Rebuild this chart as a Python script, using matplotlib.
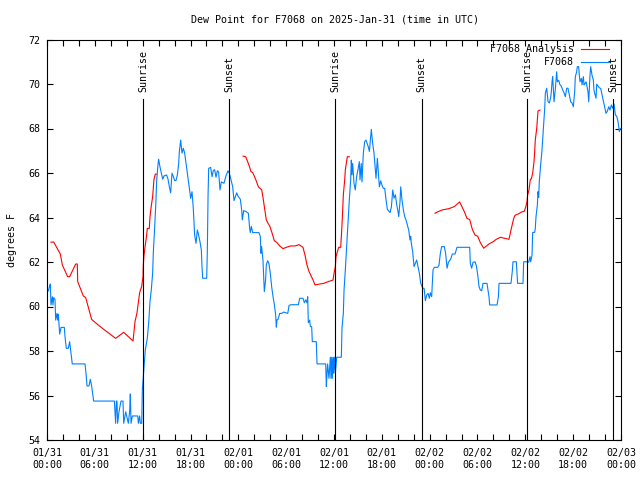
import numpy as np
import matplotlib
matplotlib.use("Agg")
import matplotlib.pyplot as plt
from matplotlib.ticker import MultipleLocator, FixedLocator

# hours since 2025-01-31 00:00 UTC
obs_hours = [0.17, 0.33, 0.42, 0.50, 0.67, 0.75, 0.84, 1.00, 1.09, 1.25, 1.34, 1.42, 1.59, 1.76, 2.17,
             2.26, 2.42, 2.67, 2.84, 3.01, 3.17, 4.77, 4.93, 5.02, 5.27, 5.43, 5.60, 5.85, 8.45, 8.61,
             8.70, 8.78, 8.86, 9.03, 9.28, 9.53, 9.62, 9.87, 10.20, 10.37, 10.45, 10.54, 10.71, 11.38,
             11.46, 11.62, 11.71, 11.88, 11.96, 12.08, 12.17, 12.33, 12.58, 12.75, 12.92, 13.08, 13.25,
             13.34, 13.50, 13.67, 13.76, 13.92, 14.00, 14.17, 14.34, 14.51, 14.68, 15.01, 15.18, 15.35,
             15.51, 15.68, 15.85, 16.01, 16.18, 16.35, 16.52, 16.60, 16.77, 16.93, 17.10, 17.27, 17.44,
             17.60, 17.77, 17.94, 18.02, 18.19, 18.35, 18.52, 18.69, 18.86, 19.02, 19.19, 19.36, 19.44,
             19.53, 20.03, 20.11, 20.20, 20.28, 20.53, 20.70, 20.86, 21.03, 21.20, 21.37, 21.53, 21.70,
             21.87, 22.20, 22.45, 22.70, 22.87, 23.04, 23.29, 23.46, 23.62, 23.79, 23.96, 24.25, 24.42,
             24.50, 24.67, 24.96, 25.26, 25.42, 25.50, 25.63, 25.80, 26.59, 26.76, 26.84, 26.92, 27.09,
             27.26, 27.42, 27.51, 27.68, 27.84, 28.01, 28.18, 28.35, 28.51, 28.68, 28.77, 28.85, 28.98,
             29.19, 29.44, 29.69, 30.20, 30.36, 30.61, 31.53, 31.70, 32.11, 32.28, 32.45, 32.61, 32.70,
             32.78, 32.95, 33.03, 33.20, 33.28, 33.78, 33.87, 34.96, 35.04, 35.12, 35.20, 35.37, 35.54,
             35.62, 35.71, 35.79, 35.88, 35.96, 36.04, 36.17, 36.34, 36.92, 37.00, 37.17, 37.26, 37.42,
             37.59, 37.76, 37.92, 38.09, 38.17, 38.25, 38.34, 38.51, 38.67, 38.84, 39.00, 39.18, 39.26,
             39.42, 39.51, 39.68, 39.85, 40.02, 40.27, 40.44, 40.60, 40.68, 40.85, 41.02, 41.19, 41.27,
             41.44, 41.60, 41.69, 41.86, 42.02, 42.19, 42.36, 42.53, 42.69, 43.03, 43.20, 43.37, 43.53,
             43.70, 43.87, 44.03, 44.12, 44.28, 44.37, 44.53, 44.70, 44.87, 45.03, 45.20, 45.37, 45.53,
             45.62, 45.70, 45.87, 46.04, 46.20, 46.37, 46.54, 46.71, 46.88, 47.13, 47.30, 47.46, 47.63,
             47.80, 47.96, 48.08, 48.25, 48.42, 48.58, 49.00, 49.17, 49.34, 49.50, 49.84, 50.01, 50.18,
             50.35, 50.51, 50.68, 50.84, 51.18, 51.43, 53.02, 53.10, 53.27, 53.44, 53.69, 53.86, 54.03,
             54.19, 54.36, 54.52, 54.69, 55.19, 55.44, 55.53, 56.45, 56.62, 56.70, 58.20, 58.37, 58.45,
             58.87, 58.95, 59.03, 59.71, 59.79, 60.21, 60.42, 60.59, 60.67, 60.84, 60.92, 61.17, 61.25,
             61.34, 61.51, 61.59, 61.67, 61.75, 61.92, 62.09, 62.26, 62.43, 62.51, 62.68, 62.85, 63.02,
             63.18, 63.26, 63.35, 63.43, 63.60, 63.77, 63.93, 64.02, 64.18, 64.35, 64.52, 64.69, 64.86,
             65.02, 65.19, 65.35, 65.52, 65.69, 65.85, 66.02, 66.19, 66.27, 66.44, 66.52, 66.69, 66.77,
             66.86, 67.03, 67.11, 67.28, 67.36, 67.45, 67.62, 67.86, 67.95, 68.11, 68.20, 68.36, 68.53,
             68.61, 68.70, 68.87, 68.95, 69.12, 69.28, 69.45, 69.62, 69.79, 69.96, 70.12, 70.29, 70.46,
             70.62, 70.79, 70.96, 71.13, 71.29, 71.46, 71.63, 71.71, 71.79, 71.92]
obs_dewpt = [60.70, 60.92, 61.01, 60.07, 60.44, 60.07, 60.40, 60.32, 59.39, 59.69, 59.39, 59.65, 58.76, 59.06, 59.06,
             58.64, 58.12, 58.12, 58.42, 57.92, 57.42, 57.42, 56.84, 56.43, 56.43, 56.73, 56.43, 55.75, 55.75, 54.75,
             55.75, 55.75, 54.75, 55.27, 55.75, 55.75, 54.75, 55.27, 54.75, 55.30, 56.07, 54.75, 55.08, 55.08,
             54.75, 55.08, 54.75, 54.75, 56.28, 56.84, 57.29, 58.04, 58.57, 59.24, 60.22, 60.74, 61.49,
             62.46, 63.51, 64.79, 65.69, 66.36, 66.62, 66.28, 65.99, 65.72, 65.87, 65.91, 65.72, 65.38,
             65.11, 65.99, 65.84, 65.66, 65.66, 65.91, 66.44, 66.96, 67.48, 66.89, 67.11, 66.89, 66.44,
             65.99, 65.54, 65.09, 64.86, 65.16, 64.41, 63.21, 62.84, 63.44, 63.21, 62.91, 62.54, 61.79,
             61.27, 61.27, 62.46, 64.93, 66.21, 66.25, 65.83, 66.11, 66.15, 65.81, 66.10, 66.05, 65.24,
             65.60, 65.54, 65.87, 66.10, 65.99, 65.76, 65.38, 64.76, 64.93, 65.11, 64.96, 64.82, 64.34,
             63.89, 64.31, 64.27, 64.19, 63.51, 63.32, 63.60, 63.32, 63.32, 63.14, 62.39, 62.69, 62.09,
             60.67, 61.19, 61.87, 62.06, 61.92, 61.49, 60.89, 60.44, 60.11, 59.62, 59.07, 59.40, 59.42,
             59.69, 59.69, 59.75, 59.69, 60.05, 60.08, 60.08, 60.37, 60.37, 60.17, 60.30, 60.17, 60.44,
             59.27, 59.39, 59.10, 59.09, 58.42, 58.42, 57.42, 57.42, 56.40, 56.97, 57.42, 56.77, 57.72,
             56.77, 57.72, 56.77, 57.72, 57.00, 57.72, 57.00, 57.72, 57.72, 59.02, 59.69, 60.74, 61.64,
             62.69, 63.66, 64.79, 65.69, 66.58, 65.92, 66.43, 65.54, 65.24, 65.84, 66.13, 66.51, 65.69,
             66.43, 65.60, 66.89, 67.41, 67.48, 67.21, 66.97, 67.63, 67.96, 67.33, 66.89, 66.14, 65.76,
             66.66, 65.84, 65.38, 65.65, 65.45, 65.31, 65.31, 64.79, 64.37, 64.22, 64.48, 65.24, 64.87,
             65.02, 64.56, 64.27, 64.04, 64.71, 65.38, 64.79, 64.34, 64.04, 63.89, 63.66, 63.44, 62.99,
             63.16, 62.84, 62.46, 61.79, 61.94, 62.09, 61.79, 61.49, 61.04, 60.82, 60.82, 60.26, 60.52,
             60.59, 60.37, 60.62, 60.44, 61.64, 61.76, 61.76, 61.85, 62.39, 62.69, 62.69, 62.36, 61.72,
             61.99, 62.06, 62.17, 62.36, 62.36, 62.66, 62.66, 61.94, 61.72, 61.99, 62.01, 61.82, 61.42,
             60.89, 60.74, 60.71, 61.04, 61.04, 60.44, 60.07, 60.07, 60.44, 61.04, 61.04, 61.60, 62.01,
             62.01, 61.50, 61.04, 61.04, 62.01, 62.01, 61.99, 62.24, 62.01, 62.31, 63.33, 63.33, 63.51,
             64.04, 64.56, 65.16, 64.90, 65.61, 66.36, 67.03, 68.01, 68.91, 69.58, 69.81, 69.20, 69.15,
             69.40, 69.65, 70.10, 70.33, 69.20, 69.80, 70.55, 70.10, 70.17, 69.96, 69.90, 69.73, 69.60,
             69.43, 69.81, 69.81, 69.51, 69.20, 69.15, 68.98, 69.65, 70.33, 70.55, 70.78, 70.78, 70.40,
             70.10, 70.25, 69.96, 70.33, 69.96, 70.00, 70.10, 69.65, 69.20, 70.40, 70.78, 70.40, 70.18,
             69.73, 69.58, 69.36, 69.99, 69.91, 69.83, 69.80, 69.51, 69.20, 68.91, 68.68, 68.78, 68.98,
             68.83, 69.06, 68.91, 69.10, 68.61, 68.55, 68.31, 68.09, 67.86, 68.00]

# analysis comes in three separate pieces (gaps between them)
ana_hours_1 = [0.50, 0.84, 1.67, 1.92, 2.59, 2.84, 3.60, 3.80, 3.85, 4.56, 4.85, 5.60, 6.52, 7.49, 8.61,
               9.62, 10.79, 11.04, 11.29, 11.62, 11.87, 12.04, 12.08, 12.17, 12.33, 12.50, 12.58, 12.83,
               12.92, 13.08, 13.25, 13.42, 13.59, 13.76]
ana_dewpt_1 = [62.89, 62.90, 62.36, 61.87, 61.34, 61.34, 61.91, 61.91, 61.12, 60.47, 60.40, 59.42, 59.14, 58.87, 58.57,
               58.84, 58.45, 59.32, 59.72, 60.62, 60.89, 61.34, 61.87, 62.31, 62.76, 63.21, 63.51, 63.51,
               64.04, 64.52, 64.93, 65.72, 65.95, 65.95]
ana_hours_2 = [24.59, 24.92, 25.17, 25.42, 25.59, 25.80, 26.17, 26.51, 26.93, 27.09, 27.26, 27.51, 27.68, 27.93,
               28.18, 28.51, 28.85, 29.19, 29.60, 30.02, 30.52, 31.10, 31.61, 32.11, 32.36, 32.61, 32.87,
               33.37, 33.62, 34.21, 34.71, 35.29, 35.88, 36.00, 36.17, 36.25, 36.42, 36.59, 36.84, 36.92,
               37.00, 37.09, 37.17, 37.34, 37.42, 37.59, 37.67, 37.92]
ana_dewpt_2 = [66.76, 66.73, 66.51, 66.26, 66.06, 66.02, 65.72, 65.38, 65.24, 64.91, 64.49, 63.89, 63.77, 63.62,
               63.36, 62.96, 62.87, 62.72, 62.60, 62.66, 62.72, 62.72, 62.78, 62.66, 62.31, 61.87, 61.57,
               61.19, 60.97, 61.01, 61.04, 61.12, 61.19, 61.49, 61.79, 62.24, 62.46, 62.66, 62.66, 63.14,
               63.66, 64.34, 65.01, 65.69, 66.13, 66.55, 66.73, 66.73]
ana_hours_3 = [48.67, 49.09, 49.59, 50.43, 51.09, 51.76, 52.35, 52.68, 53.02, 53.35, 53.69, 54.02, 54.36, 54.78,
               55.44, 55.95, 56.36, 56.87, 57.45, 57.95, 58.20, 58.54, 58.70, 59.12, 59.54, 59.87, 60.04,
               60.21, 60.29, 60.46, 60.63, 60.75, 60.92, 61.09, 61.17, 61.25, 61.43, 61.59, 61.84]
ana_dewpt_3 = [64.19, 64.27, 64.34, 64.40, 64.49, 64.70, 64.26, 63.96, 63.91, 63.47, 63.21, 63.16, 62.87, 62.62,
               62.81, 62.91, 63.02, 63.11, 63.06, 63.02, 63.44, 63.96, 64.10, 64.16, 64.25, 64.28, 64.46,
               64.71, 65.01, 65.24, 65.72, 65.73, 65.99, 66.51, 66.96, 67.48, 68.01, 68.79, 68.83]

sun_hours = [12.08, 22.87, 36.13, 47.0, 60.2, 71.04]
sun_labels = ["Sunrise", "Sunset", "Sunrise", "Sunset", "Sunrise", "Sunset"]

xtick_hours = [0, 6, 12, 18, 24, 30, 36, 42, 48, 54, 60, 66, 72]
xtick_labels = ["01/31\n00:00", "01/31\n06:00", "01/31\n12:00", "01/31\n18:00",
                "02/01\n00:00", "02/01\n06:00", "02/01\n12:00", "02/01\n18:00",
                "02/02\n00:00", "02/02\n06:00", "02/02\n12:00", "02/02\n18:00",
                "02/03\n00:00"]

################################################
def makePlot():
    plt.rcParams['font.family'] = 'DejaVu Sans Mono'
    plt.rcParams['font.size'] = 7.2

    fig = plt.figure(figsize=(6.4, 4.8), dpi=100)
    ax = fig.add_axes([47/640, 40/480, 574/640, 400.5/480])

    # analysis pieces joined with NaN gaps
    ana_h = ana_hours_1 + [np.nan] + ana_hours_2 + [np.nan] + ana_hours_3
    ana_v = ana_dewpt_1 + [np.nan] + ana_dewpt_2 + [np.nan] + ana_dewpt_3
    ax.plot(ana_h, ana_v, color='#ff0000', lw=0.8, label='F7068 Analysis')
    ax.plot(obs_hours, obs_dewpt, color='#0080ff', lw=0.8, label='F7068')

    # sunrise / sunset markers
    for h, lab in zip(sun_hours, sun_labels):
        ax.axvline(h, ymin=0, ymax=0.851, color='black', lw=0.8)
        ax.text(h, 0.868, lab, rotation=90, ha='center', va='bottom',
                transform=ax.get_xaxis_transform(), fontsize=7.2)

    ax.set_xlim(0, 72)
    ax.set_ylim(54, 72)
    ax.xaxis.set_major_locator(FixedLocator(xtick_hours))
    ax.set_xticklabels(xtick_labels)
    ax.xaxis.set_minor_locator(MultipleLocator(2))
    ax.yaxis.set_major_locator(MultipleLocator(2))

    ax.tick_params(which='both', direction='in', top=True, right=True,
                   length=4, width=0.8, pad=5, labelsize=7.2)
    ax.tick_params(axis='x', which='major', pad=6)
    for s in ax.spines.values():
        s.set_linewidth(0.8)

    ax.set_ylabel('degrees F', labelpad=8)
    fig.text(335/640, 1 - 19/480, 'Dew Point for F7068 on 2025-Jan-31 (time in UTC)',
             ha='center', va='center', fontsize=7.2)

    ax.legend(loc='upper right', bbox_to_anchor=(609/640, 1 - 44/480),
              bbox_transform=fig.transFigure, frameon=False, markerfirst=False,
              handlelength=2.8, handletextpad=0.7, borderpad=0, borderaxespad=0,
              labelspacing=0.3, fontsize=7.2)

    fig.savefig('out.png', dpi=100)

if __name__ == '__main__':
    makePlot()
